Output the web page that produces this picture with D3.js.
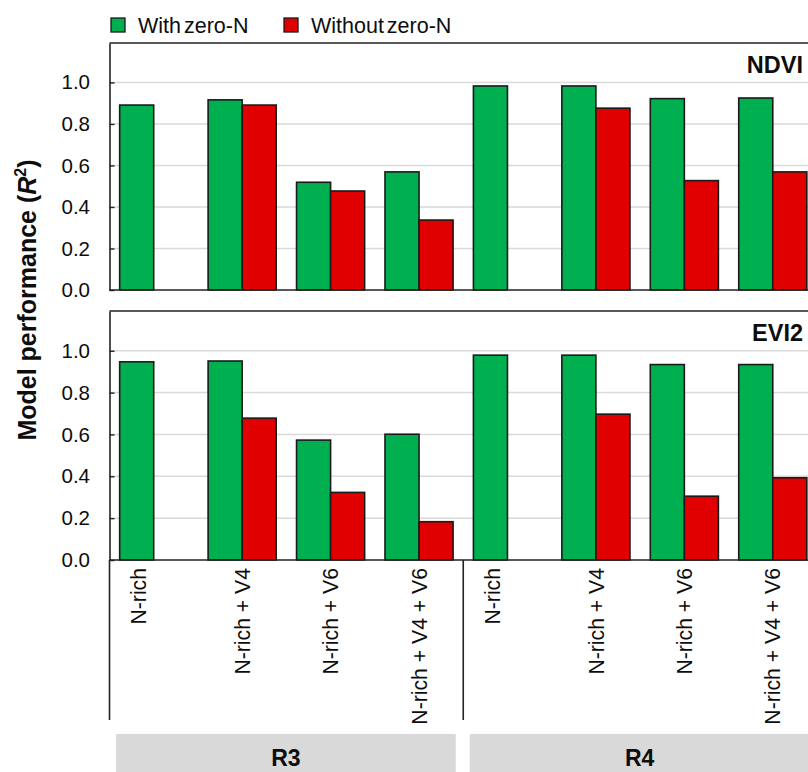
<!DOCTYPE html>
<html>
<head>
<meta charset="utf-8">
<script src="https://cdn.jsdelivr.net/npm/d3@7"></script>
<style>
  html, body { margin: 0; padding: 0; background: #fff; }
  svg { display: block; font-family: "Liberation Sans", Arial, sans-serif; }
</style>
</head>
<body>
<svg id="chart" width="808" height="772"></svg>
<script>
// ---- data ----
const categories = ["N-rich", "N-rich + V4", "N-rich + V6", "N-rich + V4 + V6",
                    "N-rich ", "N-rich + V4 ", "N-rich + V6 ", "N-rich + V4 + V6 "];
const categoryLabels = ["N-rich", "N-rich + V4", "N-rich + V6", "N-rich + V4 + V6",
                        "N-rich", "N-rich + V4", "N-rich + V6", "N-rich + V4 + V6"];
const stages = ["R3", "R4"];
const seriesNames = ["With zero-N", "Without zero-N"];
const ndviWith    = [0.891, 0.916, 0.519, 0.569, 0.983, 0.983, 0.922, 0.925];
const ndviWithout = [null,  0.891, 0.477, 0.337, null,  0.876, 0.527, 0.569];
const evi2With    = [0.947, 0.951, 0.573, 0.601, 0.979, 0.979, 0.934, 0.934];
const evi2Without = [null,  0.678, 0.323, 0.183, null,  0.697, 0.305, 0.393];
const yTicks = [0, 0.2, 0.4, 0.6, 0.8, 1.0];
const panelNames = ["NDVI", "EVI2"];

// ---- layout ----
const colors = ["#00b050", "#e00000"];
const plotLeft = 109.5, plotRight = 817;
const panelBoxes = [{top: 43, bottom: 290}, {top: 311, bottom: 560}];
const yMax = 1.19;
const ink = "#0d0d0d";

const svg = d3.select("#chart");

const x = d3.scaleBand().domain(categories).range([plotLeft, plotRight])
  .paddingInner(0.23).paddingOuter(0.115);
const xs = d3.scaleBand().domain(seriesNames).range([0, x.bandwidth()]);

const panelData = [
  {name: panelNames[0], series: [ndviWith, ndviWithout]},
  {name: panelNames[1], series: [evi2With, evi2Without]}
];

panelData.forEach((p, pi) => {
  const box = panelBoxes[pi];
  const y = d3.scaleLinear().domain([0, yMax]).range([box.bottom, box.top]);
  const g = svg.append("g");

  // gridlines
  g.selectAll("line.grid").data(yTicks.filter(t => t > 0)).join("line")
    .attr("x1", plotLeft).attr("x2", plotRight)
    .attr("y1", d => y(d)).attr("y2", d => y(d))
    .attr("stroke", "#d9d9d9").attr("stroke-width", 1.5);

  // bars
  p.series.forEach((vals, si) => {
    g.selectAll("rect.s" + si)
      .data(vals.map((v, i) => ({v, c: categories[i]})).filter(d => d.v != null))
      .join("rect")
      .attr("x", d => x(d.c) + xs(seriesNames[si]))
      .attr("width", xs.bandwidth())
      .attr("y", d => y(d.v))
      .attr("height", d => y(0) - y(d.v))
      .attr("fill", colors[si])
      .attr("stroke", "#1a1a1a").attr("stroke-width", 1.6);
  });

  // frame top line
  g.append("line").attr("x1", plotLeft).attr("x2", plotRight)
    .attr("y1", box.top).attr("y2", box.top)
    .attr("stroke", "#222").attr("stroke-width", 1.6);
  // bottom axis line
  g.append("line").attr("x1", plotLeft).attr("x2", plotRight)
    .attr("y1", box.bottom).attr("y2", box.bottom)
    .attr("stroke", "#222").attr("stroke-width", 1.6);

  // y axis
  const ax = g.append("g").attr("transform", `translate(${plotLeft},0)`)
    .call(d3.axisLeft(y).tickValues(yTicks).tickFormat(d3.format(".1f"))
      .tickSizeInner(-5).tickSizeOuter(0).tickPadding(19.5));
  ax.select(".domain").attr("stroke", "#222").attr("stroke-width", 1.6);
  ax.selectAll(".tick line").attr("stroke", "#222").attr("stroke-width", 1.4);
  ax.selectAll(".tick text").attr("font-size", 20.5).attr("fill", ink)
    .attr("font-family", "'Liberation Sans', Arial, sans-serif");

  // panel label
  g.append("text").attr("x", plotRight - 14).attr("y", box.top + 30)
    .attr("text-anchor", "end").attr("font-size", 23.5).attr("font-weight", "bold")
    .attr("fill", ink).text(p.name);
});

// ---- x category area ----
const xAreaTop = panelBoxes[1].bottom, xAreaBottom = 720;
// left axis extension
svg.append("line").attr("x1", plotLeft).attr("x2", plotLeft)
  .attr("y1", xAreaTop).attr("y2", xAreaBottom)
  .attr("stroke", "#222").attr("stroke-width", 1.6);
// stage separator
const sepX = x(categories[4]) - x.step() * x.paddingInner() / 2;
svg.append("line").attr("x1", sepX).attr("x2", sepX)
  .attr("y1", xAreaTop).attr("y2", xAreaBottom)
  .attr("stroke", "#222").attr("stroke-width", 1.6);

// category labels
svg.selectAll("text.cat").data(categories).join("text")
  .attr("transform", (d, i) => {
    const cx = x(d) + x.bandwidth() / 2 + (categoryLabels[i] === "N-rich" ? -15 : 0);
    return `translate(${cx},568) rotate(-90)`;
  })
  .attr("text-anchor", "end").attr("dy", "0.36em")
  .attr("font-size", 21.2).attr("fill", ink)
  .text((d, i) => categoryLabels[i]);

// stage boxes
const stageRanges = [[plotLeft, sepX], [sepX, plotRight]];
stages.forEach((s, i) => {
  const [a, b] = stageRanges[i];
  svg.append("rect").attr("x", a + 6.5).attr("y", 734)
    .attr("width", b - a - 14).attr("height", 60).attr("fill", "#d9d9d9");
  svg.append("text").attr("x", (a + 6.5 + b - 7.5) / 2).attr("y", 766)
    .attr("text-anchor", "middle").attr("font-size", 23).attr("font-weight", "bold")
    .attr("fill", ink).text(s);
});

// ---- y title ----
const yt = svg.append("text").attr("transform", "translate(36,300) rotate(-90)")
  .attr("text-anchor", "middle").attr("font-size", 25).attr("font-weight", "bold")
  .attr("fill", ink);
yt.append("tspan").text("Model performance (");
yt.append("tspan").attr("font-style", "italic").text("R");
yt.append("tspan").attr("font-size", 16).attr("dy", -10).text("2");
yt.append("tspan").attr("dy", 10).text(")");

// ---- legend ----
const legendX = [111, 284];
seriesNames.forEach((n, i) => {
  svg.append("rect").attr("x", legendX[i]).attr("y", 18).attr("width", 14).attr("height", 14)
    .attr("fill", colors[i]).attr("stroke", "#1a1a1a").attr("stroke-width", 1.3);
  svg.append("text").attr("x", legendX[i] + 27).attr("y", 32.5)
    .attr("font-size", 21.5).attr("fill", ink).attr("word-spacing", -3).text(n);
});
</script>
</body>
</html>
